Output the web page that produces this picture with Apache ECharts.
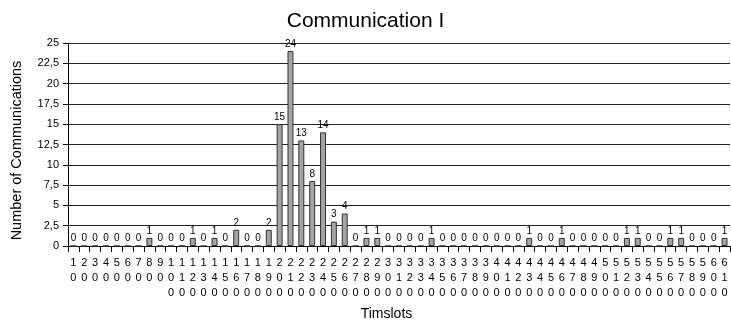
<!DOCTYPE html>
<html>
<head>
<meta charset="utf-8">
<script src="https://cdn.jsdelivr.net/npm/echarts@6/dist/echarts.min.js"></script>
<style>html,body{margin:0;padding:0;background:#fff;}#c{width:731px;height:327px;}</style>
</head>
<body>
<div id="c"></div>
<script>
var titleText = "Communication I";
var yName = "Number of Communications";
var xName = "Timslots";
var categories = ["10","20","30","40","50","60","70","80","90","100","110","120","130","140","150","160","170","180","190","200","210","220","230","240","250","260","270","280","290","300","310","320","330","340","350","360","370","380","390","400","410","420","430","440","450","460","470","480","490","500","510","520","530","540","550","560","570","580","590","600","610"];
var values = [0,0,0,0,0,0,0,1,0,0,0,1,0,1,0,2,0,0,2,15,24,13,8,14,3,4,0,1,1,0,0,0,0,1,0,0,0,0,0,0,0,0,1,0,0,1,0,0,0,0,0,1,1,0,0,1,1,0,0,0,1];
var yMin = 0, yMax = 25, yStep = 2.5;

var chart = echarts.init(document.getElementById('c'));
var font = "'Liberation Sans', Arial, sans-serif";
chart.setOption({
  animation: false,
  backgroundColor: '#fff',
  title: {text: titleText, left: 'center', top: 6, textStyle: {fontFamily: font, fontSize: 21, fontWeight: 'normal', color: '#000'}},
  grid: {left: 68, right: 1, top: 43, bottom: 81, outerBoundsMode: 'none', containLabel: false},
  xAxis: {
    type: 'category', data: categories,
    name: xName, nameLocation: 'middle', nameGap: 61,
    nameTextStyle: {fontFamily: font, fontSize: 14, color: '#000', padding: [0,25,0,0]},
    axisLine: {lineStyle: {color: '#000', width: 1}},
    axisTick: {show: true, length: 6, lineStyle: {color: '#000'}},
    axisLabel: {interval: 0, margin: 9, fontFamily: font, fontSize: 11, color: '#000', lineHeight: 15,
      formatter: function (v) { return v.split('').join('\n'); }, verticalAlign: 'top'}
  },
  yAxis: {
    type: 'value', min: yMin, max: yMax, interval: yStep,
    name: yName, nameLocation: 'middle', nameGap: 44,
    nameTextStyle: {fontFamily: font, fontSize: 14.5, color: '#000', padding: [0,12,0,0]},
    axisLine: {show: true, lineStyle: {color: '#000'}},
    axisTick: {show: true, length: 5, lineStyle: {color: '#000'}},
    axisLabel: {fontFamily: font, fontSize: 11, color: '#000', margin: 9,
      formatter: function (v) { return String(v).replace('.', ','); }},
    splitLine: {show: true, lineStyle: {color: '#222', width: 1}}
  },
  series: [{
    type: 'bar', data: values, barWidth: '55%',
    itemStyle: {color: '#a4a4a4', borderColor: '#333', borderWidth: 1},
    label: {show: true, position: 'top', distance: 2, fontFamily: font, fontSize: 10, color: '#000'}
  }]
});
</script>
</body>
</html>
